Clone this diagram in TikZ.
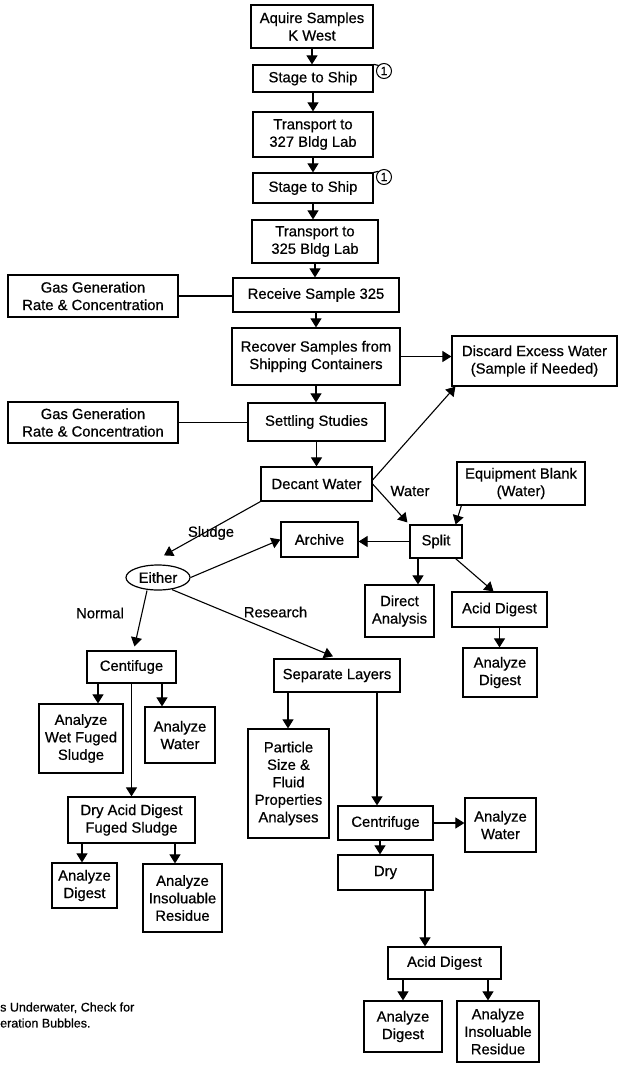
\documentclass[tikz,border=0pt]{standalone}
\usepackage{fontspec}
\setmainfont{Liberation Sans}
\newfontfamily\scanfont{Liberation Sans}[FakeBold=0.6]
\usetikzlibrary{arrows.meta,shapes.geometric}

\tikzset{
  box/.style={draw, line width=1.2pt, align=center, inner sep=1pt, font=\scanfont\fontsize{14.8}{17.5}\selectfont},
  ebox/.style={box, ellipse},
  lbl/.style={font=\scanfont\fontsize{14.8}{17.5}\selectfont},
  num/.style={draw, circle, line width=1pt, inner sep=0pt, minimum size=15pt, fill=white, font=\scanfont\fontsize{12}{12}\selectfont},
  conn/.style={line width=1.1pt},
  arr/.style={conn, -{Triangle[width=11pt,length=9pt]}}
}

\begin{document}
\begin{tikzpicture}[x=1pt,y=-1pt]
\useasboundingbox (0,0) rectangle (620,1066);

% shipping
\node[box, minimum width=122pt, minimum height=43pt] (acquire) at (312,26.5) {Aquire Samples\\K West};
\node[box, minimum width=120pt, minimum height=27pt] (stage1) at (313,78.5) {Stage to Ship};
\node[box, minimum width=120pt, minimum height=45pt] (trans327) at (313,134.5) {Transport to\\327 Bldg Lab};
\node[box, minimum width=120pt, minimum height=30pt] (stage2) at (313,188) {Stage to Ship};
\node[box, minimum width=126pt, minimum height=43pt] (trans325) at (315,241.5) {Transport to\\325 Bldg Lab};
\node[num] (one1) at (384,71) {1};
\node[num] (one2) at (384,177) {1};
\draw[line width=1.2pt] (stage1.north east) -- (one1.north west);
\draw[line width=1.2pt] (stage2.north east) -- (one2.north west);

% receiving
\node[box, minimum width=166pt, minimum height=34pt] (receive) at (316,295) {Receive Sample 325};
\node[box, minimum width=168pt, minimum height=57pt] (recover) at (316,356.5) {Recover Samples from\\Shipping Containers};
\node[box, minimum width=170pt, minimum height=42pt] (gas1) at (93,296) {Gas Generation\\Rate \& Concentration};
\node[box, minimum width=165pt, minimum height=50pt] (discard) at (534.5,361) {Discard Excess Water\\(Sample if Needed)};
\node[box, minimum width=170pt, minimum height=41pt] (gas2) at (93,422.5) {Gas Generation\\Rate \& Concentration};
\node[box, minimum width=137pt, minimum height=38pt] (settle) at (316.5,422) {Settling Studies};
\node[box, minimum width=111pt, minimum height=34pt] (decant) at (316.5,484) {Decant Water};

% water side
\node[box, minimum width=128pt, minimum height=43pt] (blank) at (521,483.5) {Equipment Blank\\(Water)};
\node[box, minimum width=52pt, minimum height=33pt] (split) at (436,541.5) {Split};
\node[box, minimum width=77pt, minimum height=35pt] (archive) at (319.5,539.5) {Archive};
\node[box, minimum width=69pt, minimum height=52pt] (direct) at (399.5,611) {Direct\\Analysis};
\node[box, minimum width=95pt, minimum height=35pt] (aciddig1) at (499.5,609.5) {Acid Digest};
\node[box, minimum width=74pt, minimum height=49pt] (andig1) at (500,672.5) {Analyze\\Digest};

% sludge side
\node[ebox, minimum width=64pt, minimum height=25pt] (either) at (158,577.5) {Either};
\node[box, minimum width=89pt, minimum height=32pt] (centi) at (131.5,667) {Centifuge};
\node[box, minimum width=84pt, minimum height=69pt] (wetfug) at (81,738.5) {Analyze\\Wet Fuged\\Sludge};
\node[box, minimum width=70pt, minimum height=56pt] (anwat1) at (180,735) {Analyze\\Water};
\node[box, minimum width=127pt, minimum height=46pt] (drydig) at (131.5,820) {Dry Acid Digest\\Fuged Sludge};
\node[box, minimum width=65pt, minimum height=45pt] (andig2) at (84.5,885.5) {Analyze\\Digest};
\node[box, minimum width=79pt, minimum height=68pt] (anins1) at (182.5,898) {Analyze\\Insoluable\\Residue};

% research
\node[box, minimum width=126pt, minimum height=33pt] (seplay) at (337,675.5) {Separate Layers};
\node[box, minimum width=81pt, minimum height=109pt] (particle) at (288.5,783.5) {Particle\\Size \&\\Fluid\\Properties\\Analyses};
\node[box, minimum width=95pt, minimum height=34pt] (centr) at (385.5,823) {Centrifuge};
\node[box, minimum width=71pt, minimum height=54pt] (anwat2) at (500.5,825) {Analyze\\Water};
\node[box, minimum width=95pt, minimum height=35pt] (dry) at (385.5,872.5) {Dry};
\node[box, minimum width=113pt, minimum height=32pt] (aciddig2) at (444.5,963) {Acid Digest};
\node[box, minimum width=78pt, minimum height=51pt] (andig3) at (403,1026.5) {Analyze\\Digest};
\node[box, minimum width=82pt, minimum height=61pt] (anins2) at (498,1031.5) {Analyze\\Insoluable\\Residue};

% labels
\node[lbl] (lwater) at (410,491) {Water};
\node[lbl] (lsludge) at (211,533) {Sludge};
\node[lbl] (lnormal) at (100,613) {Normal};
\node[lbl] (lresearch) at (275.5,612) {Research};
\node[anchor=west, align=left, inner sep=0pt, font=\scanfont\fontsize{12.5}{16}\selectfont] (note) at (0,1015) {s Underwater, Check for\\eration Bubbles.};

% main line arrows
\foreach \from/\to in {acquire/stage1,stage1/trans327,trans327/stage2,stage2/trans325,trans325/receive,receive/recover,recover/settle,settle/decant}
  \draw[arr] (\from.south) -- (\from.south |- \to.north);

\draw[conn] (gas1.east) -- (gas1.east -| receive.west);
\draw[conn] (gas2.east) -- (gas2.east -| settle.west);
\draw[arr] (recover.east) -- (recover.east -| discard.west);
\draw[arr] ([yshift=4pt]decant.east) -- ([xshift=4pt]discard.south west);
\draw[arr] (decant.east) -- ([xshift=-2pt,yshift=2pt]split.north west);
\draw[arr] ([xshift=5pt]blank.south west) -- ([xshift=-7pt]split.north east);
\draw[arr] (split.west) -- (split.west -| archive.east);
\draw[arr] ([xshift=-18pt]split.south) -- ([xshift=-18pt]split.south |- direct.north);
\draw[arr] ([xshift=-7pt]split.south east) -- ([xshift=-6pt]aciddig1.north);
\draw[arr] (aciddig1.south) -- (aciddig1.south |- andig1.north);

% sludge arrows
\draw[arr] (decant.south west) -- ([xshift=6pt,yshift=9pt]either.north);
\draw[arr] (either.east) -- (archive.west);
\draw[arr] ([xshift=-11pt]either.south) -- ([xshift=3pt,yshift=4pt]centi.north);
\draw[arr] ([xshift=14pt,yshift=1pt]either.south) -- ([xshift=-4pt,yshift=2pt]seplay.north);
\draw[arr] ([xshift=-33.5pt]centi.south) -- ([xshift=-33.5pt]centi.south |- wetfug.north);
\draw[arr] ([xshift=30.5pt]centi.south) -- ([xshift=30.5pt]centi.south |- anwat1.north);
\draw[arr] (centi.south) -- (centi.south |- drydig.north);
\draw[arr] ([xshift=-49.5pt]drydig.south) -- ([xshift=-49.5pt]drydig.south |- andig2.north);
\draw[arr] ([xshift=43.5pt]drydig.south) -- ([xshift=43.5pt]drydig.south |- anins1.north);

% research arrows
\draw[arr] ([xshift=-49pt]seplay.south) -- ([xshift=-49pt]seplay.south |- particle.north);
\draw[arr] ([xshift=40pt]seplay.south) -- ([xshift=40pt]seplay.south |- centr.north);
\draw[arr] (centr.east) -- (centr.east -| anwat2.west);
\draw[arr] ([xshift=-5.5pt]centr.south) -- ([xshift=-5.5pt]centr.south |- dry.north);
\draw[arr] ([xshift=39.5pt]dry.south) -- ([xshift=39.5pt]dry.south |- aciddig2.north);
\draw[arr] ([xshift=-41.5pt]aciddig2.south) -- ([xshift=-41.5pt]aciddig2.south |- andig3.north);
\draw[arr] ([xshift=43.5pt]aciddig2.south) -- ([xshift=43.5pt]aciddig2.south |- anins2.north);
\end{tikzpicture}
\end{document}
